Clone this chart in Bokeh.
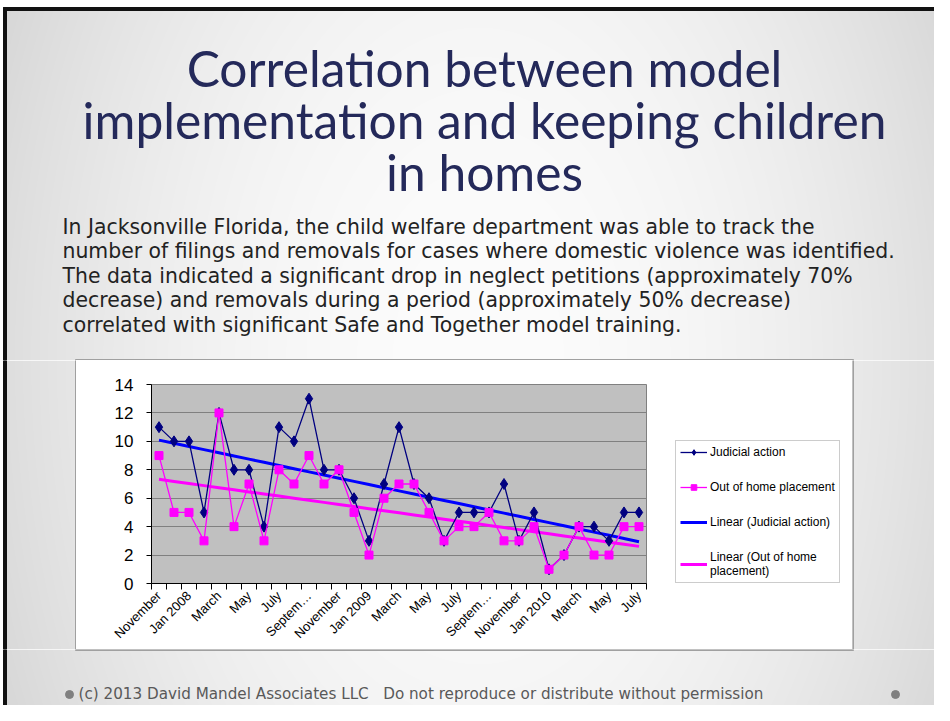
import numpy as np
from math import pi
from bokeh.plotting import figure
from bokeh.layouts import column, row
from bokeh.models import Range1d, FixedTicker, Label, Legend, LegendItem
from bokeh.embed import file_html
from bokeh.resources import INLINE

# ---------------- data ----------------
months = ["November", "December", "Jan 2008", "February", "March", "April", "May",
          "June", "July", "August", "September", "October", "November", "December",
          "Jan 2009", "February", "March", "April", "May", "June", "July", "August",
          "September", "October", "November", "December", "Jan 2010", "February",
          "March", "April", "May", "June", "July"]
judicial = [11, 10, 10, 5, 12, 8, 8, 4, 11, 10, 13, 8, 8, 6, 3, 7, 11, 7, 6, 3,
            5, 5, 5, 7, 3, 5, 1, 2, 4, 4, 3, 5, 5]
placement = [9, 5, 5, 3, 12, 4, 7, 3, 8, 7, 9, 7, 8, 5, 2, 6, 7, 7, 5, 3,
             4, 4, 5, 3, 3, 4, 1, 2, 4, 2, 2, 4, 4]
tick_labels = ["November", "Jan 2008", "March", "May", "July", "Septem\u2026",
               "November", "Jan 2009", "March", "May", "July", "Septem\u2026",
               "November", "Jan 2010", "March", "May", "July"]
y_ticks = [0, 2, 4, 6, 8, 10, 12, 14]
series_names = ["Judicial action", "Out of home placement",
                "Linear (Judicial action)", "Linear (Out of home\nplacement)"]
title_lines = ["Correlation between model",
               "implementation and keeping children",
               "in homes"]
body_lines = ["In Jacksonville Florida, the child welfare department was able to track the",
              "number of filings and removals for cases where domestic violence was identified.",
              "The data indicated a significant drop in neglect petitions (approximately 70%",
              "decrease) and removals during a period (approximately 50% decrease)",
              "correlated with significant Safe and Together model training."]
footer_text = "(c) 2013 David Mandel Associates LLC\u00a0\u00a0\u00a0Do not reproduce or distribute without permission"

# ---------------- page geometry (page px == reference px) ----------------
W, H = 934, 705
BOX_L, BOX_R, BOX_T, BOX_B = 76, 852, 360, 649   # chart box interior
LEG_X = 656                                       # split between chart and legend parts
BORDER = "#A0A0A0"


def gradient(x0, y0, w, h):
    """RGBA image of the slide background for page region (x0, y0, w, h); row 0 = bottom."""
    px = np.arange(w) + x0 + 0.5
    py = (y0 + h - 0.5 - np.arange(h))
    dx = np.abs(px - 478) / 472.0
    dy = np.abs(py - 360) / 360.0
    g = 252 - 30 * dx[None, :] ** 2 - 7 * dy[:, None] ** 2
    g = np.clip(g, 0, 255).astype(np.uint32)
    img = (np.uint32(255) << 24) | (g << 16) | (g << 8) | g
    img[:, px < 3] = 0xFFFFFFFF
    img[py < 7, :] = 0xFFFFFFFF
    return img


def slide_fig(x0, y0, w, h):
    f = figure(width=w, height=h, output_backend="svg", toolbar_location=None,
               x_range=Range1d(x0, x0 + w), y_range=Range1d(0, h),
               min_border=0, outline_line_color=None, frame_align=False)
    f.axis.visible = False
    f.grid.visible = False
    f.image_rgba(image=[gradient(x0, y0, w, h)], x=x0, y=0, dw=w, dh=h)

    def fy(page_y):
        return y0 + h - page_y
    return f, fy


def text_label(fy, x, baseline_y, text, font, size, color, align="left"):
    # vertical centre of the em box sits about 0.33 em above the baseline
    return Label(x=x, y=fy(baseline_y - 0.33 * size), text=text, text_font=font,
                 text_font_size="%.1fpx" % size, text_color=color,
                 text_align=align, text_baseline="middle")


# ---------- top part: title and body ----------
top, tfy = slide_fig(0, 0, W, BOX_T)
top.quad(left=3, right=W, bottom=tfy(10), top=tfy(7), color="#111111")
top.quad(left=3, right=6, bottom=0, top=tfy(7), color="#111111")
top.quad(left=BOX_L - 1, right=BOX_R + 1, bottom=tfy(BOX_T), top=tfy(BOX_T - 1),
         color=BORDER)
for line, ry in zip(title_lines, [84, 136, 188]):
    top.add_layout(text_label(tfy, 484, ry, line, "Lato", 49.7, "#24295A", "center"))
for line, ry in zip(body_lines, [233, 257.5, 282, 306.5, 331]):
    top.add_layout(text_label(tfy, 62, ry, line, "DejaVu Sans", 20.4, "#222222"))

# ---------- sides of the chart box ----------
mid_h = BOX_B - BOX_T
left, _ = slide_fig(0, BOX_T, BOX_L, mid_h)
left.quad(left=3, right=6, bottom=0, top=mid_h, color="#111111")
left.quad(left=BOX_L - 1, right=BOX_L, bottom=0, top=mid_h, color=BORDER)
right, _ = slide_fig(BOX_R, BOX_T, W - BOX_R, mid_h)
right.quad(left=BOX_R, right=BOX_R + 1, bottom=0, top=mid_h, color=BORDER)

# ---------- bottom part: footer ----------
bot, bfy = slide_fig(0, BOX_B, W, H - BOX_B)
bot.quad(left=3, right=6, bottom=0, top=H - BOX_B, color="#111111")
bot.quad(left=BOX_L - 1, right=BOX_R + 1, bottom=bfy(BOX_B + 1), top=bfy(BOX_B),
         color=BORDER)
bot.add_layout(text_label(bfy, 78, 699, footer_text, "DejaVu Sans", 15.2, "#595959"))
bot.scatter(x=[69, 895], y=[bfy(694)] * 2, size=8, color="#808080")

# ---------- chart ----------
n = len(months)
xs = list(range(n))
CW = LEG_X - BOX_L
FL, FT, FW, FH = 75, 24, 495, 200
p = figure(width=CW, height=mid_h, output_backend="svg", toolbar_location=None,
           x_range=Range1d(-0.5, n - 0.5), y_range=Range1d(0, 14),
           min_border_left=FL, min_border_top=FT, frame_align=False,
           min_border_right=CW - FL - FW, min_border_bottom=mid_h - FT - FH)
p.background_fill_color = "#C0C0C0"
p.border_fill_color = "white"
p.outline_line_color = "#808080"
p.xgrid.visible = False
p.ygrid.ticker = FixedTicker(ticks=y_ticks)
p.ygrid.grid_line_color = "#808080"
p.ygrid.grid_line_width = 1.2

xi = np.arange(1, n + 1)
tj = list(np.polyval(np.polyfit(xi, judicial, 1), xi))
tp = list(np.polyval(np.polyfit(xi, placement, 1), xi))

styles = [dict(line_color="#000080", line_width=1.3, marker="diamond", size=11),
          dict(line_color="#FF00FF", line_width=1.3, marker="square", size=8),
          dict(line_color="#0000FF", line_width=3),
          dict(line_color="#FF00FF", line_width=3)]


def draw(fig, ys_list):
    out = []
    for ys, st in zip(ys_list, styles):
        rs = [fig.line(xs, ys, line_color=st["line_color"], line_width=st["line_width"])]
        if "marker" in st:
            rs.append(fig.scatter(xs, ys, marker=st["marker"], size=st["size"],
                                  fill_color=st["line_color"], line_color=st["line_color"]))
        out.append(rs)
    return out


# trend lines first so the data lines sit on top
draw(p, [[], [], tj, tp])
draw(p, [judicial, placement, [], []])

xa = p.xaxis[0]
xa.ticker = FixedTicker(ticks=list(range(0, n, 2)),
                        minor_ticks=[i - 0.5 for i in range(n + 1)])
xa.major_label_overrides = {i: lab for i, lab in zip(range(0, n, 2), tick_labels)}
xa.major_tick_out = 0
xa.major_tick_in = 0
xa.minor_tick_out = 6
xa.minor_tick_in = 0
xa.minor_tick_line_color = "black"
xa.axis_line_color = "black"
xa.major_label_orientation = pi / 4
xa.major_label_standoff = 4
xa.major_label_text_font = "Liberation Sans"
xa.major_label_text_font_size = "13px"
xa.major_label_text_color = "black"

ya = p.yaxis[0]
ya.ticker = FixedTicker(ticks=y_ticks)
ya.major_tick_out = 5
ya.major_tick_in = 0
ya.minor_tick_out = 0
ya.minor_tick_in = 0
ya.axis_line_color = "black"
ya.major_tick_line_color = "black"
ya.major_label_standoff = 13
ya.major_label_text_font = "Liberation Sans"
ya.major_label_text_font_size = "17px"
ya.major_label_text_color = "black"

# ---------- legend panel (same series, drawn off-screen, only the key is visible) ----------
LW = BOX_R - LEG_X
lg = figure(width=LW, height=mid_h, output_backend="svg", toolbar_location=None,
            x_range=Range1d(1000, 1001), y_range=Range1d(1000, 1001),
            min_border=0, outline_line_color=None, frame_align=False)
lg.axis.visible = False
lg.grid.visible = False
lg.background_fill_color = "white"
lg.border_fill_color = "white"
lr = draw(lg, [judicial, placement, tj, tp])
legend = Legend(items=[LegendItem(label=name, renderers=rs)
                       for name, rs in zip(series_names, lr)],
                location=(675 - LEG_X, BOX_B - 583), orientation="vertical",
                border_line_color="#999999", border_line_width=1,
                background_fill_color="white", background_fill_alpha=1,
                label_text_font="Liberation Sans", label_text_font_size="12px",
                label_text_color="black", glyph_width=27, glyph_height=14,
                label_height=14, label_standoff=3, padding=4, spacing=21, margin=0)
lg.add_layout(legend)

layout = column(top, row(left, p, lg, right, spacing=0), bot, spacing=0)
open("out.html", "w").write(file_html(layout, INLINE))
